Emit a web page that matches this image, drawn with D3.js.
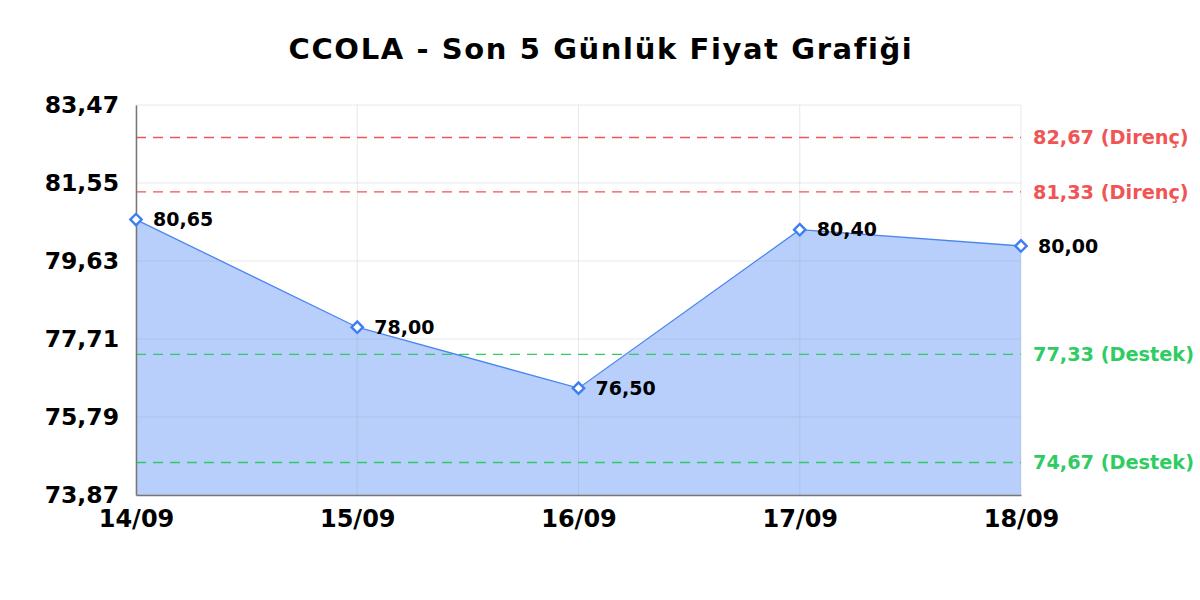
<!DOCTYPE html>
<html>
<head>
<meta charset="utf-8">
<script src="https://cdn.jsdelivr.net/npm/d3@7"></script>
<style>
  body { margin: 0; background: #fff; }
  text { font-family: "DejaVu Sans", sans-serif; font-weight: bold; }
</style>
</head>
<body>
<svg id="chart" width="1200" height="600"></svg>
<script>
// chart data
var dates = ["14/09", "15/09", "16/09", "17/09", "18/09"];
var prices = [80.65, 78.00, 76.50, 80.40, 80.00];
var yTicks = [73.87, 75.79, 77.71, 79.63, 81.55, 83.47];
var levelValues = [82.67, 81.33, 77.33, 74.67];
var levelKinds = ["Direnç", "Direnç", "Destek", "Destek"];
var title = "CCOLA - Son 5 Günlük Fiyat Grafiği";

var fmt = function (v) { return v.toFixed(2).replace(".", ","); };

var svg = d3.select("#chart");
var margin = { left: 136, right: 179, top: 105, bottom: 105 };
var width = 1200 - margin.left - margin.right;
var height = 600 - margin.top - margin.bottom;

var x = d3.scalePoint().domain(dates).range([0, width]);
var y = d3.scaleLinear().domain([yTicks[0], yTicks[yTicks.length - 1]]).range([height, 0]);

svg.append("text")
  .attr("x", 601).attr("y", 58.5)
  .attr("text-anchor", "middle")
  .attr("font-size", "29px")
  .attr("letter-spacing", "1.6px")
  .text(title);

var g = svg.append("g").attr("transform", "translate(" + margin.left + "," + margin.top + ")");

// area under line
var area = d3.area()
  .x(function (d, i) { return x(dates[i]); })
  .y0(height)
  .y1(function (d) { return y(d); });

g.append("path")
  .datum(prices)
  .attr("d", area)
  .attr("fill", "#b7cffa");

// gridlines
g.append("g").selectAll("line")
  .data(yTicks)
  .enter().append("line")
  .attr("x1", 0).attr("x2", width)
  .attr("y1", function (d) { return y(d); })
  .attr("y2", function (d) { return y(d); })
  .attr("stroke", "#999").attr("stroke-opacity", 0.22);

g.append("g").selectAll("line")
  .data(dates)
  .enter().append("line")
  .attr("x1", function (d) { return x(d); })
  .attr("x2", function (d) { return x(d); })
  .attr("y1", 0).attr("y2", height)
  .attr("stroke", "#999").attr("stroke-opacity", 0.22);

// support / resistance lines
var levelColor = function (k) { return k === "Direnç" ? "#f05454" : "#2ecc63"; };

g.append("g").selectAll("line")
  .data(levelValues)
  .enter().append("line")
  .attr("x1", 0).attr("x2", width)
  .attr("y1", function (d) { return y(d); })
  .attr("y2", function (d) { return y(d); })
  .attr("stroke", function (d, i) { return levelColor(levelKinds[i]); })
  .attr("stroke-width", 1.3)
  .attr("stroke-dasharray", "10,7");

g.append("g").selectAll("text")
  .data(levelValues)
  .enter().append("text")
  .attr("x", width + 12)
  .attr("y", function (d) { return y(d); })
  .attr("dy", "0.35em")
  .attr("font-size", "19.3px")
  .attr("fill", function (d, i) { return levelColor(levelKinds[i]); })
  .text(function (d, i) { return fmt(d) + " (" + levelKinds[i] + ")"; });

// price line
var line = d3.line()
  .x(function (d, i) { return x(dates[i]); })
  .y(function (d) { return y(d); });

g.append("path")
  .datum(prices)
  .attr("d", line)
  .attr("fill", "none")
  .attr("stroke", "#4a86f0")
  .attr("stroke-width", 1.3);

// axes
var yAxis = g.append("g")
  .call(d3.axisLeft(y).tickValues(yTicks).tickSize(0).tickPadding(17).tickFormat(fmt));
yAxis.select(".domain").attr("stroke", "#777").attr("stroke-width", 1.5);
yAxis.selectAll("text").attr("font-size", "23.5px").attr("fill", "#000")
  .style("font-family", "DejaVu Sans").style("font-weight", "bold");

var xAxis = g.append("g")
  .attr("transform", "translate(0," + height + ")")
  .call(d3.axisBottom(x).tickSize(0).tickPadding(15));
xAxis.select(".domain").attr("stroke", "#777").attr("stroke-width", 1.5);
xAxis.selectAll("text").attr("font-size", "24px").attr("fill", "#000")
  .style("font-family", "DejaVu Sans").style("font-weight", "bold");

// markers
var diamond = d3.symbol().type(d3.symbolSquare).size(64);
g.append("g").selectAll("path")
  .data(prices)
  .enter().append("path")
  .attr("d", diamond)
  .attr("transform", function (d, i) { return "translate(" + x(dates[i]) + "," + y(d) + ") rotate(45)"; })
  .attr("fill", "#fff")
  .attr("stroke", "#3d7ff0")
  .attr("stroke-width", 2.4);

// value labels
g.append("g").selectAll("text")
  .data(prices)
  .enter().append("text")
  .attr("x", function (d, i) { return x(dates[i]) + 17; })
  .attr("y", function (d) { return y(d); })
  .attr("dy", "0.35em")
  .attr("font-size", "19px")
  .attr("fill", "#000")
  .text(fmt);
</script>
</body>
</html>
